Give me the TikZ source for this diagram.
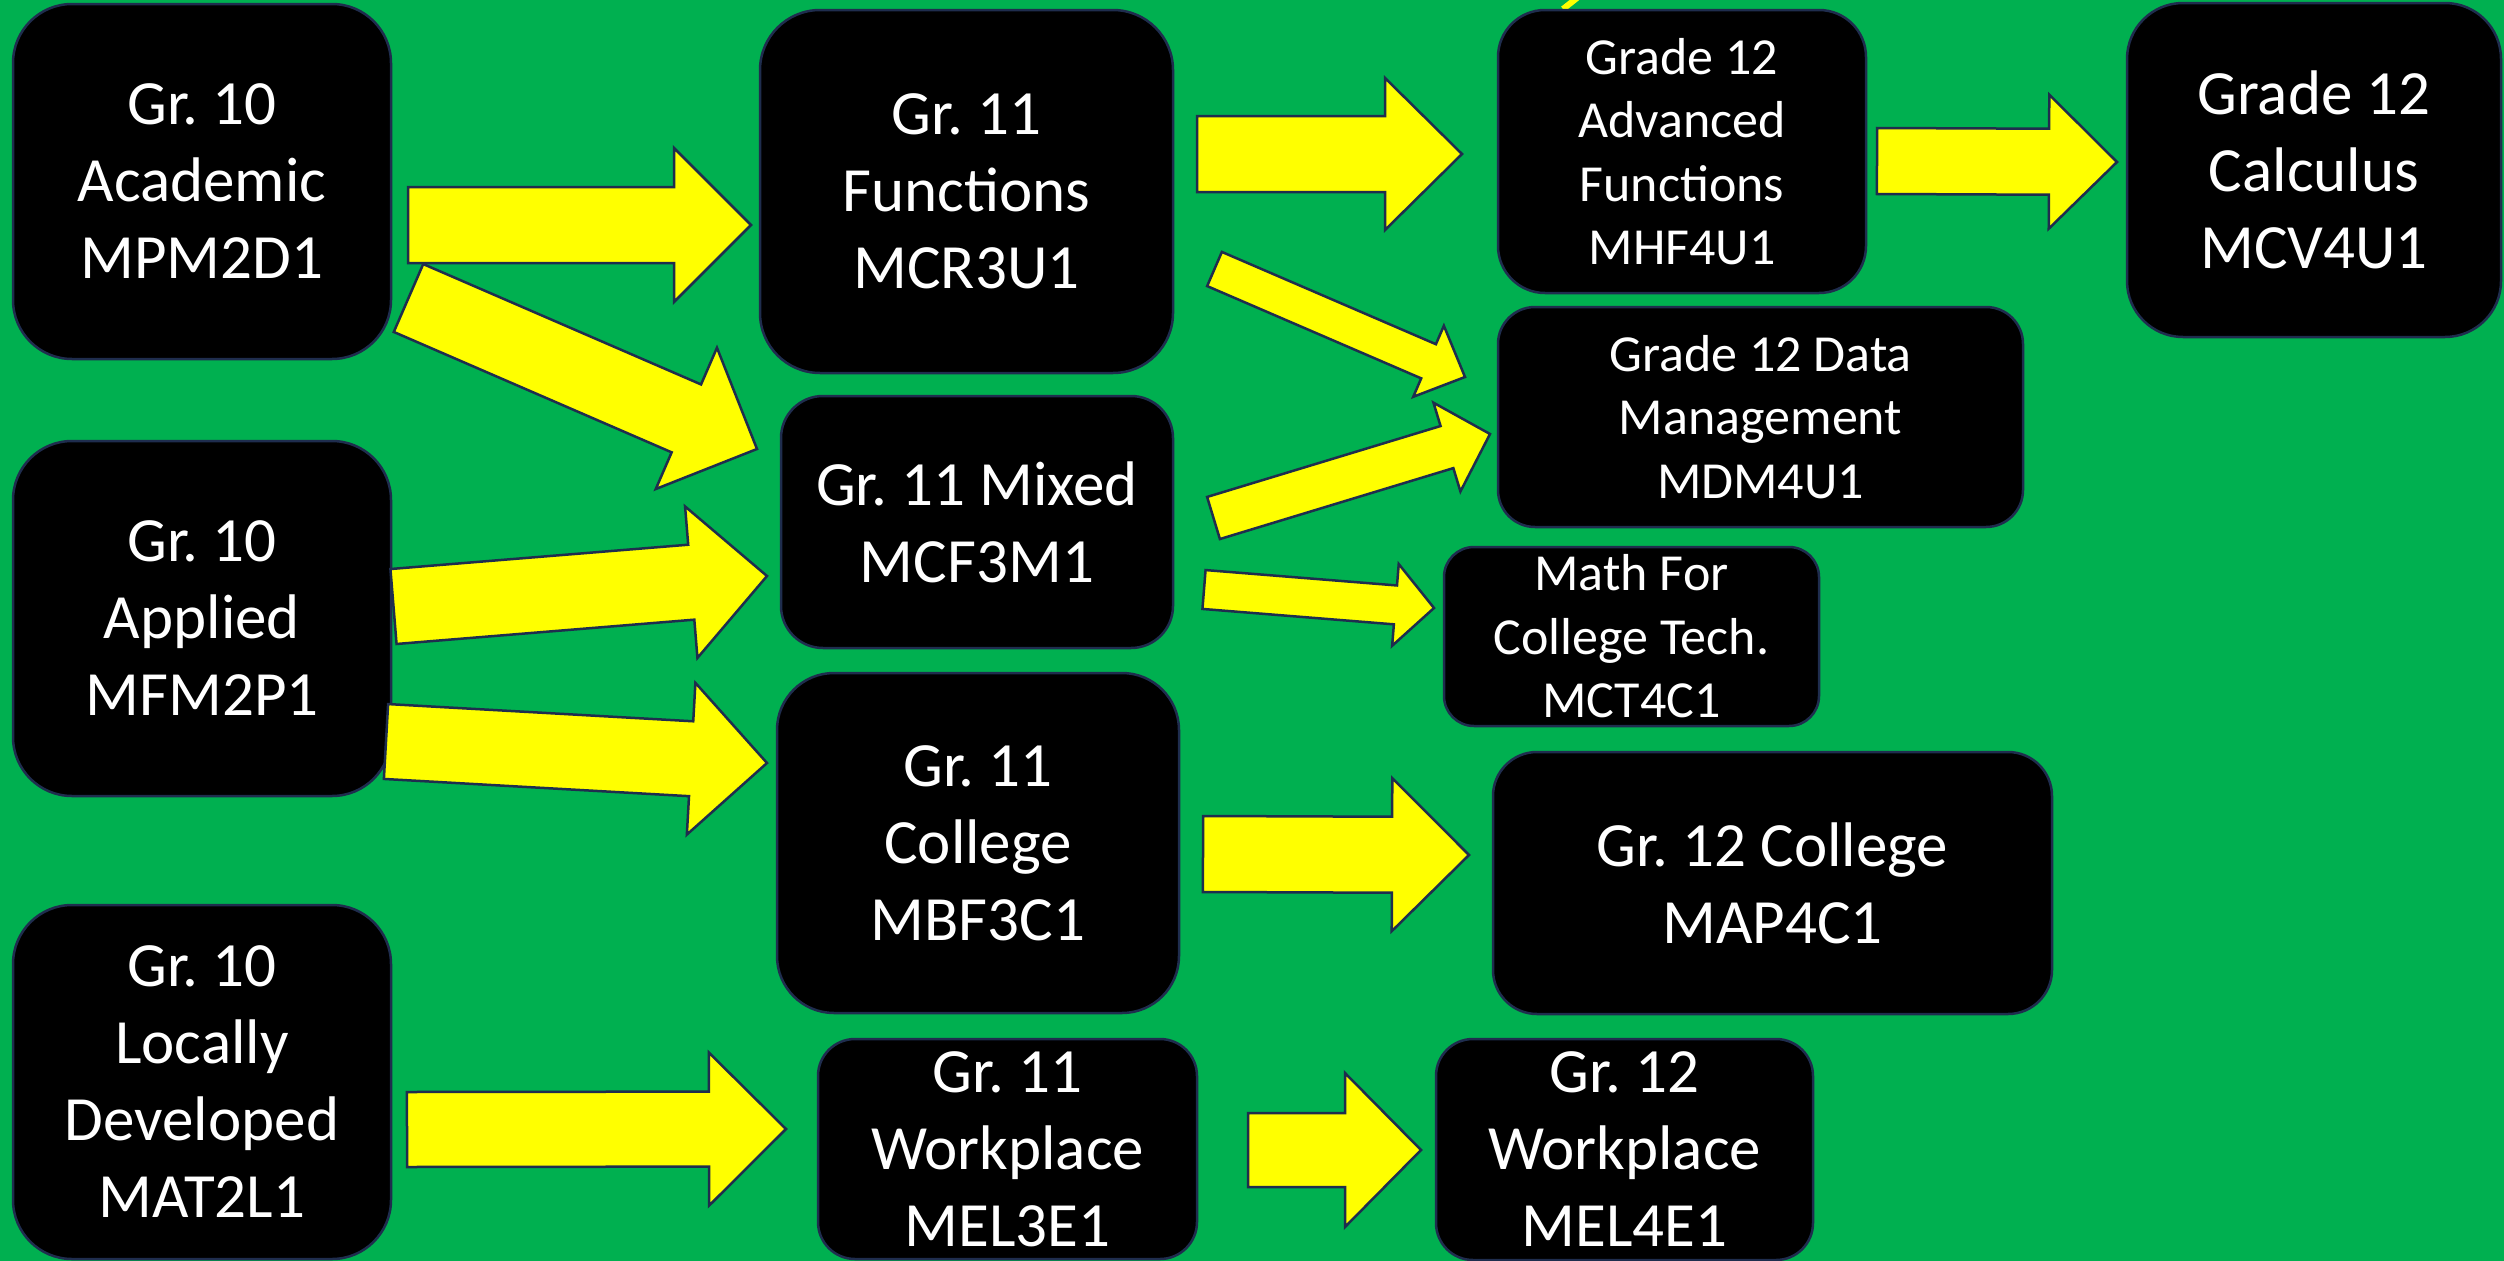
\documentclass[tikz,border=0pt]{standalone}
\usepackage{fontspec}
\setmainfont{Carlito}
\usetikzlibrary{calc}
\definecolor{bg}{RGB}{0,176,80}
\definecolor{navy}{RGB}{31,45,78}
\definecolor{yel}{RGB}{255,255,0}
\tikzset{
  course/.style={draw=navy, line width=2.5pt, fill=black, text=white, align=center, inner sep=0pt, outer sep=0pt},
  big/.style={font=\fontsize{63}{77}\selectfont\frenchspacing},
  small/.style={font=\fontsize{52}{63.5}\selectfont\frenchspacing},
  yarrow/.style={draw=navy, line width=2.5pt, fill=yel, line join=miter},
}
% #1 prefix, #2 tail coordinate, #3 tip coordinate, #4 half shaft width, #5 half head width, #6 head length
\newcommand\blockarrow[6]{%
  \path ($(#3)!#6pt!(#2)$) coordinate (#1n);
  \draw[yarrow] ($(#2)!#4pt!90:(#3)$) -- ($(#1n)!#4pt!-90:(#2)$) -- ($(#1n)!#5pt!-90:(#2)$) -- (#3)
     -- ($(#1n)!#5pt!90:(#2)$) -- ($(#1n)!#4pt!90:(#2)$) -- ($(#2)!#4pt!-90:(#3)$) -- cycle;
}
\begin{document}
\frenchspacing
\begin{tikzpicture}[x=1pt,y=-1pt]
\useasboundingbox (0,0) rectangle (2504,1261);
\fill[bg] (0,0) rectangle (2504,1261);

% small yellow stroke at the top
\coordinate (ys1) at (1563,9);
\coordinate (ys2) at (1577,-2);
\draw[yel, line width=6pt] (ys1) -- (ys2);

% Grade 10
\node[course,big,minimum width=378pt,minimum height=355pt,rounded corners=59pt] (acad) at (202,181.5) {Gr. 10\\Academic\\MPM2D1};
\node[course,big,minimum width=378pt,minimum height=355pt,rounded corners=59pt] (appl) at (202,618.5) {Gr. 10\\Applied\\MFM2P1};
\node[course,big,minimum width=378pt,minimum height=354pt,rounded corners=59pt] (locd) at (202,1082) {Gr. 10\\Locally\\Developed\\MAT2L1};

% Grade 11
\node[course,big,minimum width=413pt,minimum height=363pt,rounded corners=60pt] (func) at (966.5,191.5) {Gr. 11\\Functions\\MCR3U1};
\node[course,big,minimum width=392pt,minimum height=252pt,rounded corners=42pt] (mixd) at (977,522) {Gr. 11 Mixed\\MCF3M1};
\node[course,big,minimum width=402pt,minimum height=340pt,rounded corners=57pt] (coll) at (978,843) {Gr. 11\\College\\MBF3C1};
\node[course,big,minimum width=379pt,minimum height=220pt,rounded corners=37pt] (work) at (1007.5,1149) {Gr. 11\\Workplace\\MEL3E1};

% Grade 12
\node[course,small,minimum width=368pt,minimum height=283pt,rounded corners=47pt] (advf) at (1682,151.5) {Grade 12\\Advanced\\Functions\\MHF4U1};
\node[course,big,minimum width=374pt,minimum height=334pt,rounded corners=56pt] (calc) at (2314,170) {Grade 12\\Calculus\\MCV4U1};
\node[course,small,minimum width=525pt,minimum height=220pt,rounded corners=37pt] (data) at (1760.5,417) {Grade 12 Data\\Management\\MDM4U1};
\node[course,small,minimum width=375pt,minimum height=179pt,rounded corners=30pt] (tech) at (1631.5,636.5) {Math For\\College Tech.\\MCT4C1};
\node[course,big,minimum width=559pt,minimum height=262pt,rounded corners=44pt] (colt) at (1772.5,883) {Gr. 12 College\\MAP4C1};
\node[course,big,minimum width=377pt,minimum height=221pt,rounded corners=37pt] (wort) at (1624.5,1149.5) {Gr. 12\\Workplace\\MEL4E1};

% arrow end points
\coordinate (a1t) at (408,225);     \coordinate (a1p) at (751,225);
\coordinate (a2t) at (408.5,298);   \coordinate (a2p) at (757,449);
\coordinate (a3t) at (393.5,606.5); \coordinate (a3p) at (767,576);
\coordinate (a4t) at (386,741.5);   \coordinate (a4p) at (767,763);
\coordinate (a5t) at (1197,154);    \coordinate (a5p) at (1462,154);
\coordinate (a6t) at (1214.5,269);  \coordinate (a6p) at (1465,377);
\coordinate (a7t) at (1213.5,518);  \coordinate (a7p) at (1490,434);
\coordinate (a8t) at (1204,589.5);  \coordinate (a8p) at (1434,608);
\coordinate (a9t) at (1203,854);    \coordinate (a9p) at (1469,855);
\coordinate (a10t) at (1248,1150);  \coordinate (a10p) at (1421,1150);
\coordinate (a11t) at (1877,161);   \coordinate (a11p) at (2117,162);
\coordinate (a12t) at (407,1129.5); \coordinate (a12p) at (786,1129);

\blockarrow{a1}{a1t}{a1p}{38}{77}{77}
\blockarrow{a2}{a2t}{a2p}{37}{77}{77}
\blockarrow{a3}{a3t}{a3p}{37.6}{76}{76}
\blockarrow{a4}{a4t}{a4p}{37.5}{76}{76}
\blockarrow{a5}{a5t}{a5p}{38}{76}{77}
\blockarrow{a6}{a6t}{a6p}{18.6}{38.7}{39.7}
\blockarrow{a7}{a7t}{a7p}{22}{46.4}{45}
\blockarrow{a8}{a8t}{a8p}{19.5}{41}{38.7}
\blockarrow{a9}{a9t}{a9p}{38}{76.5}{77}
\blockarrow{a10}{a10t}{a10p}{37}{77}{76}
\blockarrow{a11}{a11t}{a11p}{33}{67}{68}
\blockarrow{a12}{a12t}{a12p}{37.5}{76.5}{77}
\end{tikzpicture}
\end{document}
